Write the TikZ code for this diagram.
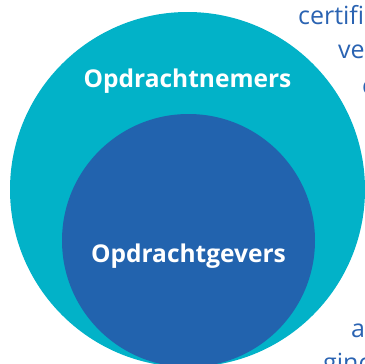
\documentclass[tikz,border=0pt]{standalone}
\usepackage{fontspec}
\setmainfont{Open Sans}
\definecolor{teal1}{HTML}{02B2C8}
\definecolor{blue1}{HTML}{2263AE}
\definecolor{txtblue}{HTML}{2A63B2}
\begin{document}
\begin{tikzpicture}[x=1pt,y=-1pt,
  label/.style={text=white,font=\fontsize{24.5}{28}\selectfont\bfseries,inner sep=0pt},
  side/.style={text=txtblue,font=\fontsize{25}{30}\selectfont,inner sep=0pt,anchor=base west}]
\useasboundingbox (0,0) rectangle (365,364);
\clip (0,0) rectangle (365,364);
\fill[teal1] (187.5,189.5) circle (177.5pt);
\fill[blue1] (188.5,240.5) circle (126.5pt);
\node[label,anchor=base] (nemers) at (187.5,88) {Opdrachtnemers};
\node[label,anchor=base] (gevers) at (188.5,262) {Opdrachtgevers};
\node[side] (t1) at (298,24) {certifi};
\node[side] (t2) at (338,58) {ve};
\node[side] (t3) at (362,94) {c};
\node[side] (t4) at (351,337) {a};
\node[side] (t5) at (323,371) {ginc};
\end{tikzpicture}
\end{document}
